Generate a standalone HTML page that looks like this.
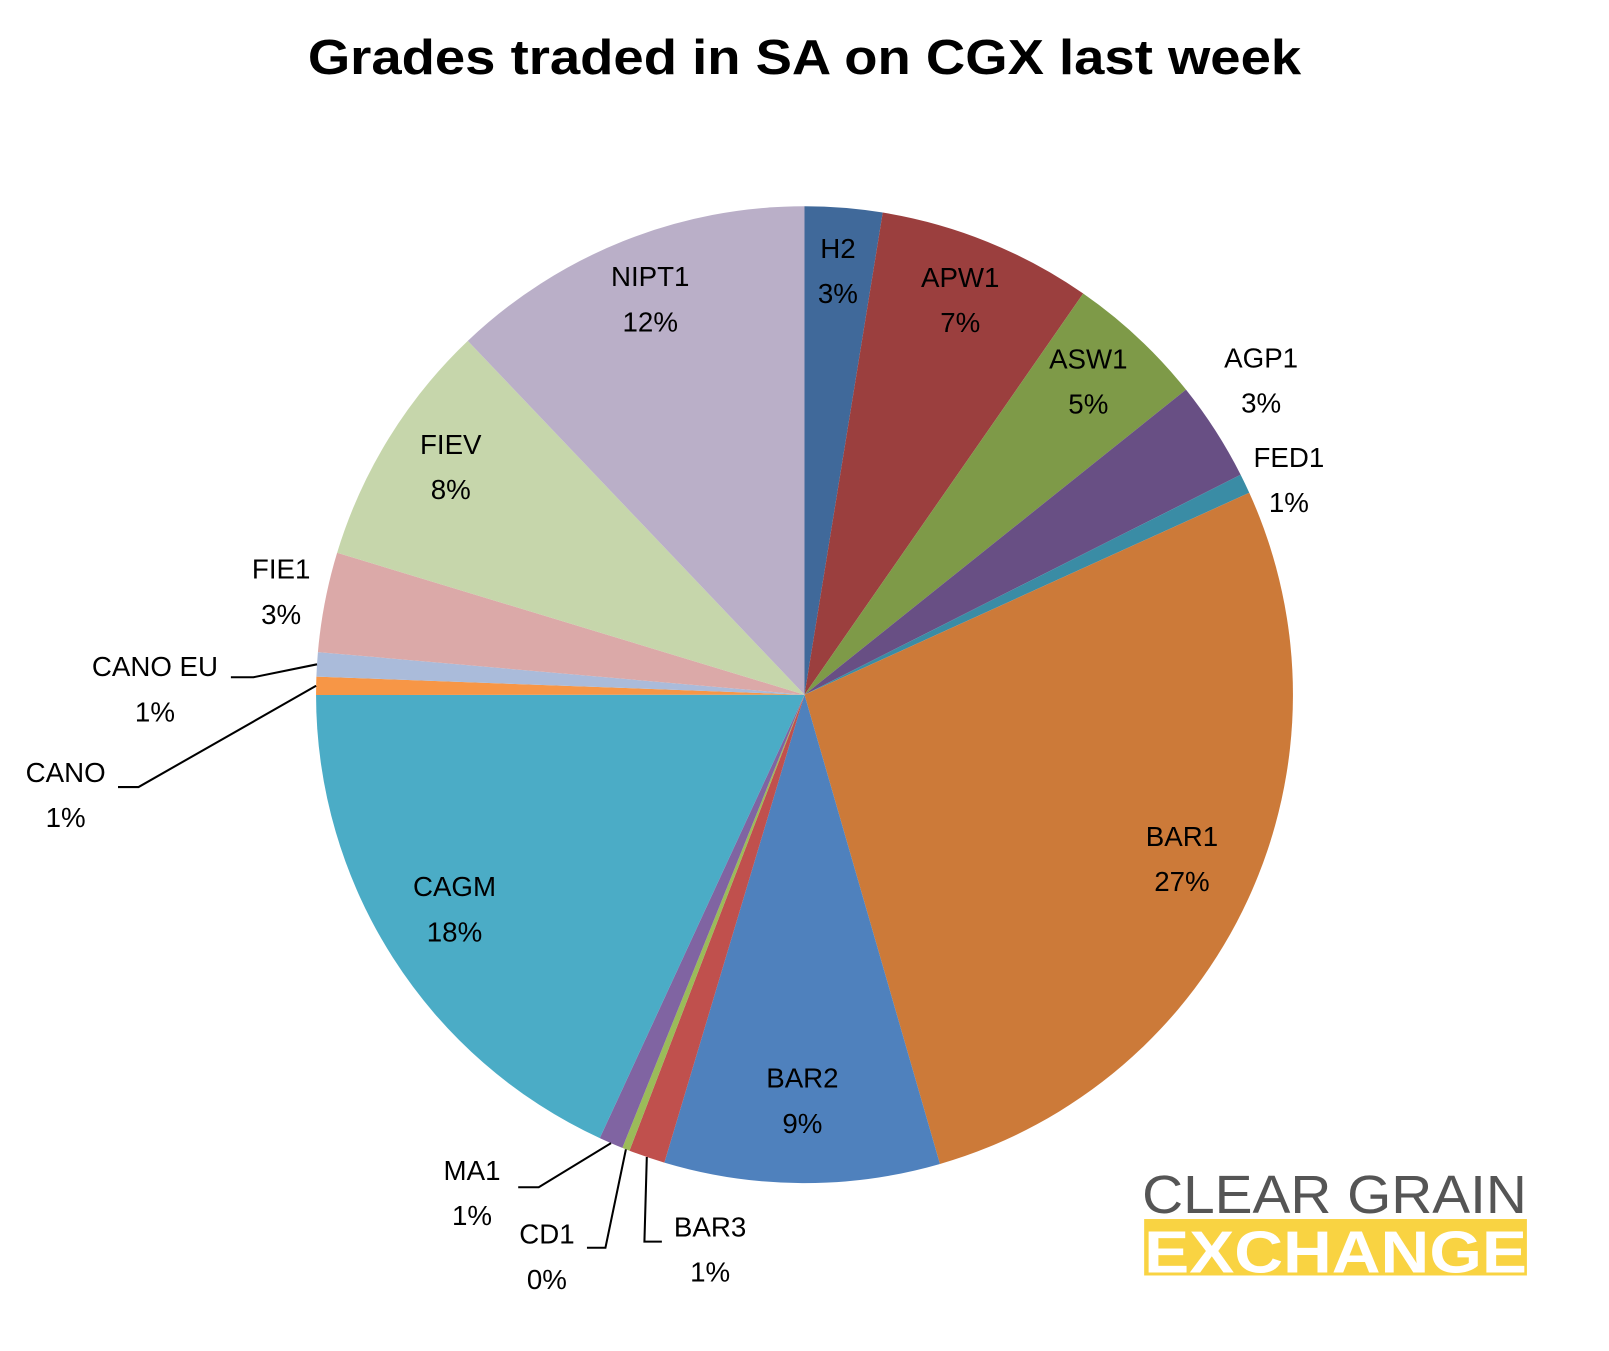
<!DOCTYPE html>
<html><head><meta charset="utf-8"><style>
html,body{margin:0;padding:0;background:#fff;}
svg{display:block;font-family:"Liberation Sans",sans-serif;}
</style></head><body>
<svg id="chart" width="1609" height="1351" viewBox="0 0 1568 1316.6" preserveAspectRatio="none">
<text x="784" y="72" text-anchor="middle" font-size="48" font-weight="bold" fill="#000" textLength="968" lengthAdjust="spacingAndGlyphs">Grades traded in SA on CGX last week</text>
<g id="slices"></g>
<g id="labels"></g>
<g>
<text x="1113" y="1182" font-size="52" fill="#555" textLength="375" lengthAdjust="spacingAndGlyphs">CLEAR GRAIN</text>
<rect x="1115" y="1188" width="373" height="55" fill="#F9D342"/>
<text x="1115" y="1240" font-size="58" font-weight="bold" fill="#fff" textLength="373" lengthAdjust="spacingAndGlyphs">EXCHANGE</text>
</g>
</svg>
<script>
const categories = ["H2","APW1","ASW1","AGP1","FED1","BAR1","BAR2","BAR3","CD1","MA1","CAGM","CANO","CANO EU","FIE1","FIEV","NIPT1"];
const values = [2.56,7.1,4.6,3.3,0.65,27.3,9.1,1.2,0.25,0.8,18.1,0.6,0.8,3.3,8.2,12.1];
const pctLabels = ["3%","7%","5%","3%","1%","27%","9%","1%","0%","1%","18%","1%","1%","3%","8%","12%"];
const colors = ["#40699A","#9B3F3E","#7E9A48","#684F84","#3A8CA5","#CC7A39","#4F81BD","#C0504D","#9BBB59","#8064A2","#4BACC6","#F79646","#AABBDA","#DBA9A8","#C6D6AB","#BAAFC8"];
const NS="http://www.w3.org/2000/svg";
const cx=784, cy=677, R=476;
const total=values.reduce((a,b)=>a+b,0);
function pt(frac,r){const a=frac*2*Math.PI;return [cx+r*Math.sin(a), cy-r*Math.cos(a)];}
const outside={
 "AGP1":{x:1229,y:358},
 "FED1":{x:1256,y:455},
 "FIE1":{x:274,y:564},
 "CANO EU":{x:151,y:659,line:[225,660,247,660]},
 "CANO":{x:64,y:762,line:[115,767,135,767]},
 "MA1":{x:460,y:1150,line:[505,1157,525,1157]},
 "CD1":{x:533,y:1212,line:[572,1216,590,1216]},
 "BAR3":{x:692,y:1205,line:[645,1210,628,1210]}
};
const gS=document.getElementById('slices'), gL=document.getElementById('labels');
let cum=0;
categories.forEach((c,i)=>{
  const f0=cum/total, f1=(cum+values[i])/total; cum+=values[i];
  const p0=pt(f0,R), p1=pt(f1,R);
  const large=(f1-f0)>0.5?1:0;
  const path=document.createElementNS(NS,'path');
  path.setAttribute('d',`M${cx},${cy}L${p0[0]},${p0[1]}A${R},${R} 0 ${large} 1 ${p1[0]},${p1[1]}Z`);
  path.setAttribute('fill',colors[i]);
  
  
  gS.appendChild(path);
  const fm=(f0+f1)/2;
  let lx,ly;
  const o=outside[c];
  if(o){lx=o.x;ly=o.y;
    if(o.line){const e=pt(fm,R);
      const pl=document.createElementNS(NS,'polyline');
      pl.setAttribute('points',`${o.line[0]},${o.line[1]} ${o.line[2]},${o.line[3]} ${e[0]},${e[1]}`);
      pl.setAttribute('fill','none');pl.setAttribute('stroke','#000');pl.setAttribute('stroke-width','2');
      
      
      gL.appendChild(pl);}
  } else {const p=pt(fm,405);lx=p[0];ly=p[1]-22;}
  const t=document.createElementNS(NS,'text');
  t.setAttribute('x',lx);t.setAttribute('y',ly);t.setAttribute('text-anchor','middle');
  t.setAttribute('font-size','27');t.setAttribute('fill','#000');
  
  
  const s1=document.createElementNS(NS,'tspan');s1.setAttribute('x',lx);s1.textContent=c;
  const s2=document.createElementNS(NS,'tspan');s2.setAttribute('x',lx);s2.setAttribute('dy','44');s2.textContent=pctLabels[i];
  t.appendChild(s1);t.appendChild(s2);gL.appendChild(t);
});
</script>
</body></html>
